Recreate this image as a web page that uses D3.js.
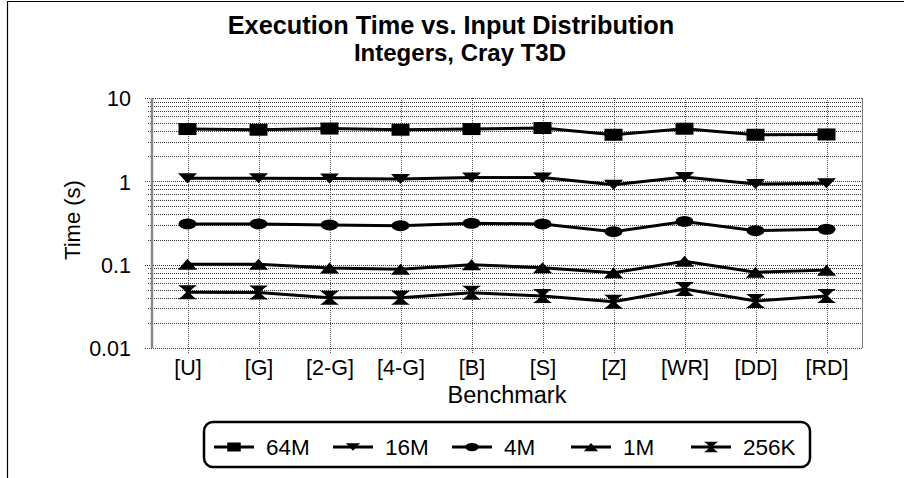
<!DOCTYPE html>
<html>
<head>
<meta charset="utf-8">
<script src="https://cdn.jsdelivr.net/npm/d3@7"></script>
<style>
  html, body { margin: 0; padding: 0; background: #fff; }
  svg { display: block; font-family: "Liberation Sans", Arial, sans-serif; }
</style>
</head>
<body>
<svg id="chart" width="904" height="478"></svg>
<script>
// ---- data ----
const categories = ["[U]", "[G]", "[2-G]", "[4-G]", "[B]", "[S]", "[Z]", "[WR]", "[DD]", "[RD]"];
const seriesNames = ["64M", "16M", "4M", "1M", "256K"];
const s64M  = [4.24, 4.16, 4.30, 4.16, 4.24, 4.36, 3.62, 4.28, 3.62, 3.65];
const s16M  = [1.09, 1.09, 1.08, 1.07, 1.11, 1.11, 0.91, 1.13, 0.93, 0.95];
const s4M   = [0.308, 0.308, 0.300, 0.294, 0.314, 0.308, 0.249, 0.330, 0.256, 0.266];
const s1M   = [0.101, 0.101, 0.091, 0.088, 0.100, 0.092, 0.080, 0.110, 0.081, 0.086];
const s256K = [0.0466, 0.0463, 0.040, 0.040, 0.046, 0.042, 0.036, 0.051, 0.0366, 0.042];
const yTickValues = [0.01, 0.1, 1, 10];
const yTickLabels = ["0.01", "0.1", "1", "10"];
const titleText = "Execution Time vs. Input Distribution";
const subtitleText = "Integers, Cray T3D";
const xTitle = "Benchmark";
const yTitle = "Time (s)";

const seriesValues = [s64M, s16M, s4M, s1M, s256K];
const markerTypes = ["square", "triDown", "circle", "triUp", "hourglass"];

// ---- layout ----
const svg = d3.select("#chart");
const plot = { left: 152, right: 862, top: 98, bottom: 348 };

const x = d3.scalePoint().domain(categories).range([plot.left, plot.right]).padding(0.5);
const y = d3.scaleLog().domain([0.01, 10]).range([plot.bottom, plot.top]);

// outer frame
svg.append("path")
  .attr("d", `M7.5,${478 + 5} L7.5,1.5 L${904 + 5},1.5`)
  .attr("fill", "none").attr("stroke", "#000").attr("stroke-width", 1.2);

// title
svg.append("text").attr("x", 451).attr("y", 34).attr("text-anchor", "middle")
  .attr("font-weight", "bold").attr("font-size", 25.3).text(titleText);
svg.append("text").attr("x", 460).attr("y", 61).attr("text-anchor", "middle")
  .attr("font-weight", "bold").attr("font-size", 24).text(subtitleText);

// horizontal gridlines (major + minor)
const gridVals = [];
for (let d = 0.01; d < 10; d *= 10) {
  for (let k = 1; k <= 9; k++) gridVals.push(+(d * k).toPrecision(3));
}
gridVals.push(10);
const g = svg.append("g");
g.selectAll("line.hg").data(gridVals).enter().append("line")
  .attr("class", "hg")
  .attr("x1", d => yTickValues.includes(d) ? plot.left - 7 : plot.left - 4)
  .attr("x2", plot.right)
  .attr("y1", d => Math.round(y(d)) + 0.5)
  .attr("y2", d => Math.round(y(d)) + 0.5)
  .attr("stroke", "#333").attr("stroke-width", 1).attr("stroke-dasharray", "1,1");

// vertical gridlines
g.selectAll("line.vg").data(categories).enter().append("line")
  .attr("x1", d => Math.round(x(d)) + 0.5).attr("x2", d => Math.round(x(d)) + 0.5)
  .attr("y1", plot.top).attr("y2", plot.bottom + 6)
  .attr("stroke", "#555").attr("stroke-width", 1).attr("stroke-dasharray", "1,1");

// right border
g.append("line").attr("x1", plot.right + 0.5).attr("x2", plot.right + 0.5)
  .attr("y1", plot.top).attr("y2", plot.bottom)
  .attr("stroke", "#777").attr("stroke-width", 1);

// left axis line (gray)
g.append("line").attr("x1", plot.left).attr("x2", plot.left)
  .attr("y1", plot.top).attr("y2", plot.bottom)
  .attr("stroke", "#888").attr("stroke-width", 2.5);

// y axis labels via d3 axis
const yAxis = d3.axisLeft(y).tickValues(yTickValues)
  .tickFormat((d, i) => yTickLabels[i]).tickSize(0).tickPadding(21);
const yg = svg.append("g").attr("transform", `translate(${plot.left},0)`).call(yAxis);
yg.select(".domain").remove();
yg.selectAll("text").attr("font-size", 21.5).attr("fill", "#000")
  .attr("font-family", "Liberation Sans, Arial, sans-serif").attr("dy", "0.36em");

// x axis labels
const xAxis = d3.axisBottom(x).tickSize(0).tickPadding(12);
const xg = svg.append("g").attr("transform", `translate(0,${plot.bottom})`).call(xAxis);
xg.select(".domain").remove();
xg.selectAll("text").attr("font-size", 21.5).attr("fill", "#000")
  .attr("font-family", "Liberation Sans, Arial, sans-serif");

// axis titles
svg.append("text").attr("x", (plot.left + plot.right) / 2).attr("y", 403)
  .attr("text-anchor", "middle").attr("font-size", 23.5).text(xTitle);
svg.append("text").attr("transform", `translate(80,${(plot.top + plot.bottom) / 2 - 3}) rotate(-90)`)
  .attr("text-anchor", "middle").attr("font-size", 22).text(yTitle);

// marker shapes
function markerPath(type, w, h) {
  const a = w / 2, b = h / 2;
  switch (type) {
    case "square": return `M${-a},${-b}H${a}V${b}H${-a}Z`;
    case "triDown": return `M${-a},${-b}H${a}L0,${b}Z`;
    case "triUp": return `M${-a},${b}H${a}L0,${-b}Z`;
    case "circle": return `M${-a},0A${a},${b} 0 1,0 ${a},0A${a},${b} 0 1,0 ${-a},0Z`;
    case "hourglass": return `M${-a},${-b}H${a}L${a * 0.6},${-b + h * 0.2}L${a * 0.15},0L${a * 0.6},${b - h * 0.2}L${a},${b}H${-a}L${-a * 0.6},${b - h * 0.2}L${-a * 0.15},0L${-a * 0.6},${-b + h * 0.2}Z`;
  }
}
const markerSize = {
  square: [18, 12], triDown: [19, 10], circle: [18, 11], triUp: [19, 11], hourglass: [19, 14]
};

// series
const line = d3.line().x(d => x(d.c)).y(d => y(d.v));
seriesValues.forEach((vals, si) => {
  const pts = vals.map((v, i) => ({ c: categories[i], v }));
  const sg = svg.append("g");
  sg.append("path").datum(pts).attr("d", line)
    .attr("fill", "none").attr("stroke", "#000").attr("stroke-width", 3);
  const t = markerTypes[si];
  const [w, h] = markerSize[t];
  sg.selectAll("path.m").data(pts).enter().append("path").attr("class", "m")
    .attr("transform", d => `translate(${x(d.c)},${y(d.v)})`)
    .attr("d", markerPath(t, w, h)).attr("fill", "#000");
});

// legend
const lg = svg.append("g");
lg.append("rect").attr("x", 204).attr("y", 422).attr("width", 606).attr("height", 45)
  .attr("rx", 9).attr("fill", "#fff").attr("stroke", "#000").attr("stroke-width", 2.5);
const legendStarts = [214, 333, 452, 571, 691];
seriesNames.forEach((name, i) => {
  const x0 = legendStarts[i], ly = 447;
  lg.append("line").attr("x1", x0).attr("x2", x0 + 40).attr("y1", ly).attr("y2", ly)
    .attr("stroke", "#000").attr("stroke-width", 3);
  const t = markerTypes[i];
  const [w, h] = markerSize[t];
  lg.append("path").attr("transform", `translate(${x0 + 20},${ly})`)
    .attr("d", markerPath(t, w * 0.75, h * 0.75)).attr("fill", "#000");
  lg.append("text").attr("x", x0 + 52).attr("y", ly + 8).attr("font-size", 22.5).text(name);
});
</script>
</body>
</html>
